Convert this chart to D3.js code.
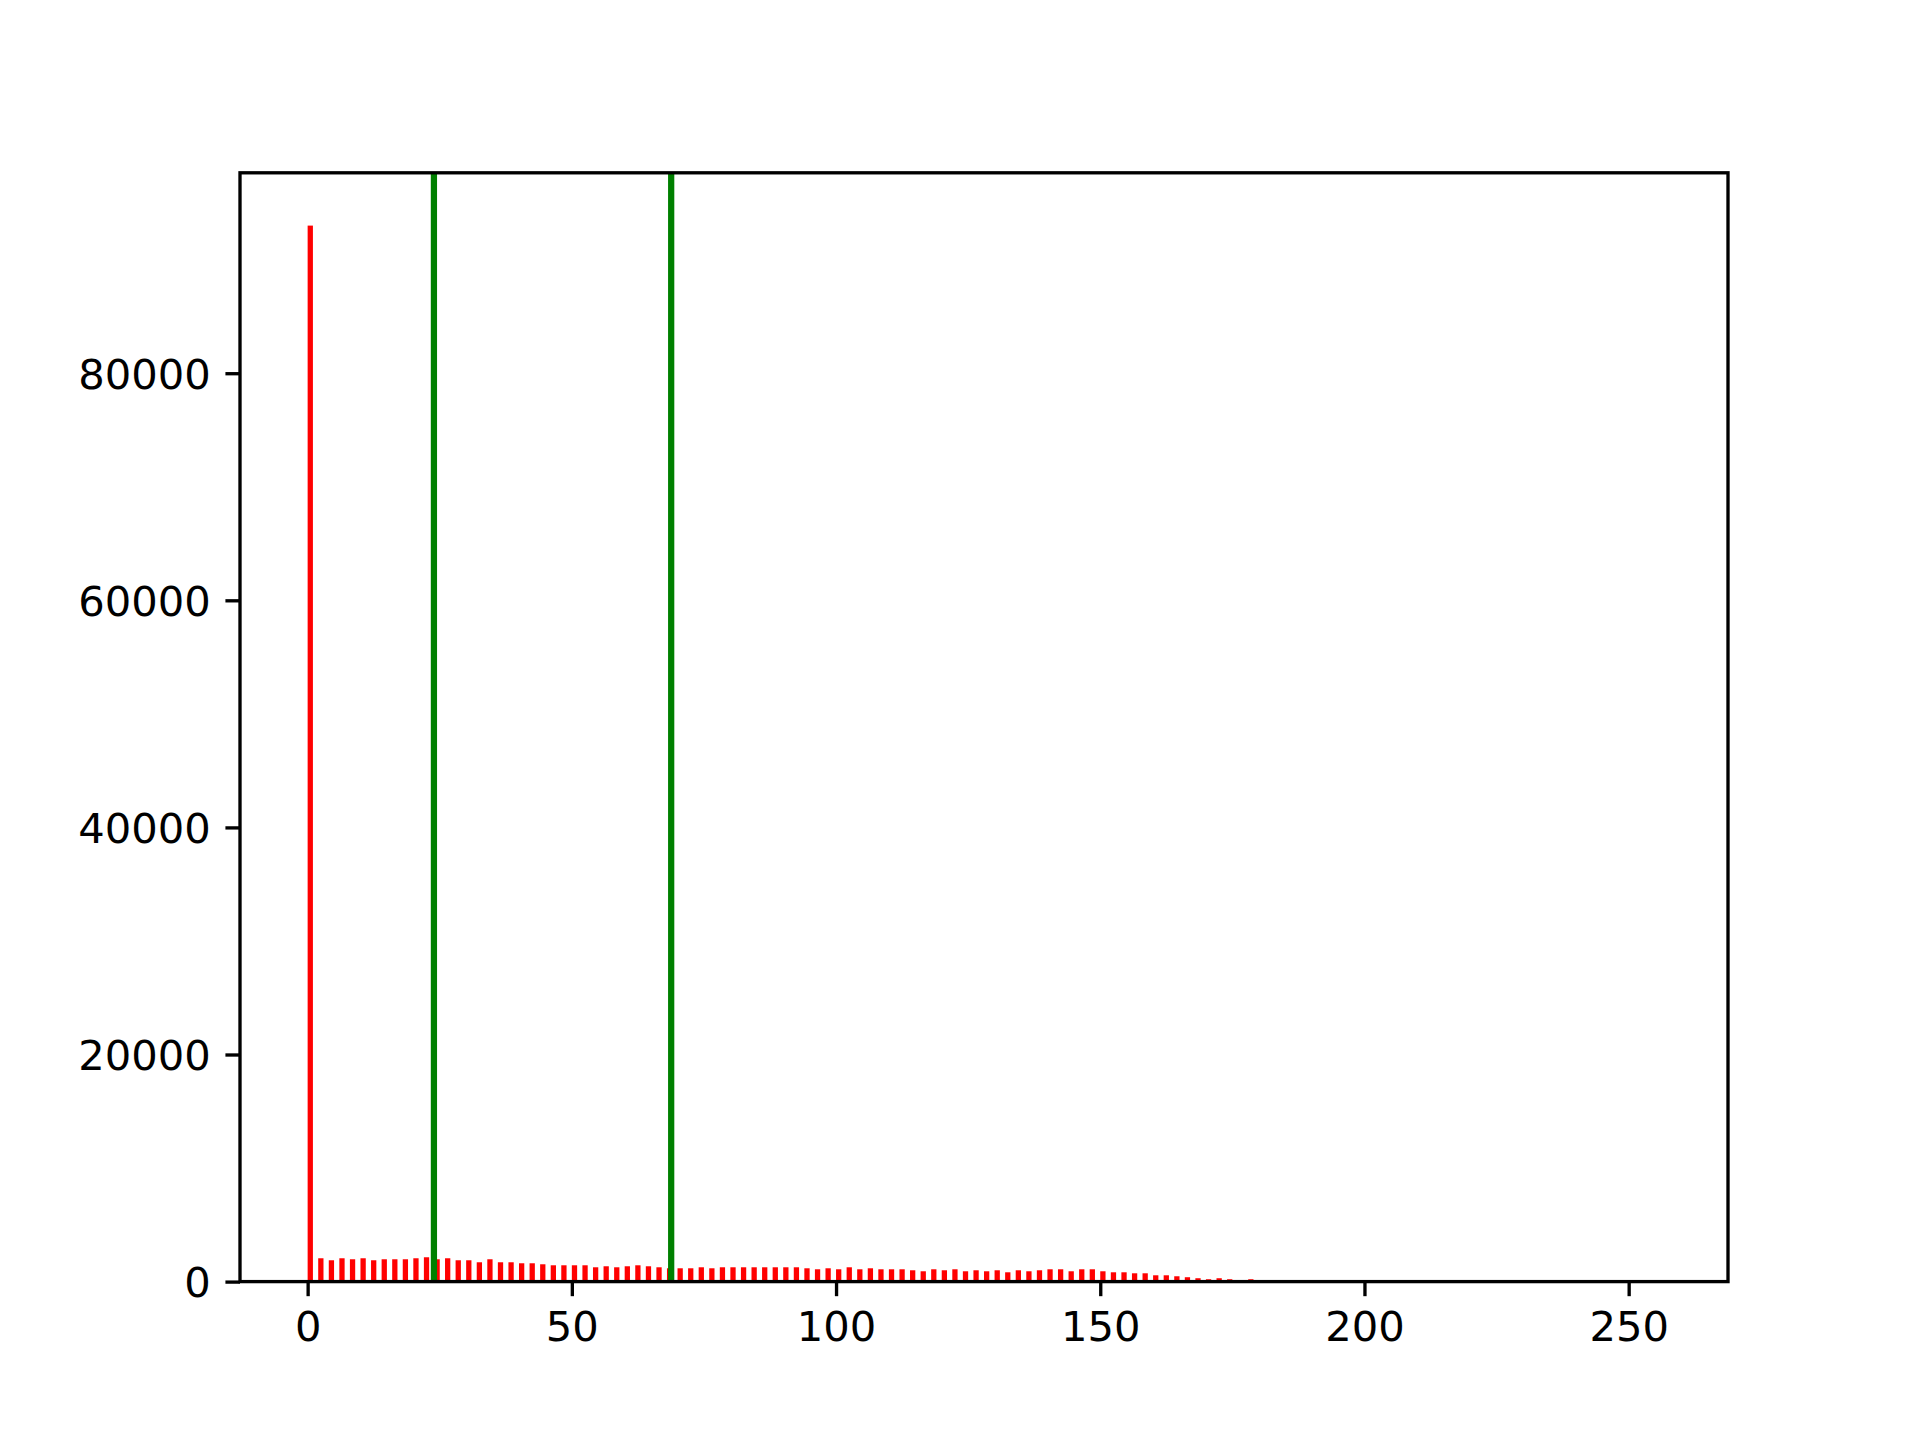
<!DOCTYPE html>
<html>
<head>
<meta charset="utf-8">
<script src="https://cdn.jsdelivr.net/npm/d3@7"></script>
<style>
  html, body { margin: 0; padding: 0; background: #fff; }
  svg { display: block; }
  text { font-family: "DejaVu Sans", sans-serif; }
</style>
</head>
<body>
<script>
// Histogram bins (left edges, width 1) — odd bins are empty
const bins = [0,2,4,6,8,10,12,14,16,18,20,22,24,26,28,30,32,34,36,38,40,42,44,46,48,50,52,54,56,58,60,62,64,66,68,70,72,74,76,78,80,82,84,86,88,90,92,94,96,98,100,102,104,106,108,110,112,114,116,118,120,122,124,126,128,130,132,134,136,138,140,142,144,146,148,150,152,154,156,158,160,162,164,166,168,170,172,174,176,178];
const counts = [93000,2055,1879,2055,1967,2055,1879,1967,1967,1967,2055,2143,1967,2055,1879,1879,1702,1967,1702,1702,1614,1614,1526,1437,1437,1437,1437,1261,1350,1261,1350,1437,1350,1261,1173,1173,1173,1261,1173,1261,1261,1261,1261,1261,1261,1261,1261,1173,1085,1173,1085,1261,1085,1173,1085,1085,1085,997,909,1085,997,1085,909,997,909,997,820,997,909,997,1085,1085,909,1085,1085,909,820,820,732,732,556,556,470,385,297,209,297,209,100,209];
const thresholds = [23.9, 68.8];
const xTicks = [0, 50, 100, 150, 200, 250];
const yTicks = [0, 20000, 40000, 60000, 80000];
const binWidth = 1;
const histRange = [0, 256];

(function () {
const W = 1920, H = 1440;
const mLeft = 240, mRight = 1728, mTop = 172.8, mBottom = 1281.6;
const lw = 0.8 * 300 / 72;      // spine / tick width
const tickLen = 3.5 * 300 / 72;
const pad = 3.5 * 300 / 72;
const fontSize = 10 * 300 / 72;

const svg = d3.select("body").append("svg").attr("width", W).attr("height", H);
svg.append("rect").attr("width", W).attr("height", H).attr("fill", "#fff");

const span = histRange[1] - histRange[0];
const x = d3.scaleLinear()
  .domain([histRange[0] - 0.05 * span, histRange[1] + 0.05 * span])
  .range([mLeft, mRight]);
const yMax = d3.max(counts);
const y = d3.scaleLinear().domain([0, yMax * 1.05]).range([mBottom, mTop]);

const plot = svg.append("g");
const data = bins.map((b, i) => ({ b, c: counts[i] }));

plot.selectAll("rect.bar").data(data).enter().append("rect")
  .attr("class", "bar")
  .attr("x", d => x(d.b))
  .attr("width", d => x(d.b + binWidth) - x(d.b))
  .attr("y", d => y(d.c))
  .attr("height", d => y(0) - y(d.c))
  .attr("fill", "#ff0000");

plot.selectAll("line.thr").data(thresholds).enter().append("line")
  .attr("class", "thr")
  .attr("x1", d => x(d)).attr("x2", d => x(d))
  .attr("y1", mTop).attr("y2", mBottom)
  .attr("stroke", "#008000")
  .attr("stroke-width", 1.5 * 300 / 72);

const xAxis = d3.axisBottom(x).tickValues(xTicks).tickSize(tickLen).tickPadding(pad).tickFormat(d3.format("d"));
const yAxis = d3.axisLeft(y).tickValues(yTicks).tickSize(tickLen).tickPadding(pad).tickFormat(d3.format("d"));

const gx = svg.append("g").attr("transform", `translate(0,${mBottom})`).call(xAxis);
const gy = svg.append("g").attr("transform", `translate(${mLeft},0)`).call(yAxis);

[gx, gy].forEach(g => {
  g.select(".domain").remove();
  g.selectAll(".tick line").attr("stroke", "#000").attr("stroke-width", lw);
  g.selectAll(".tick text").attr("fill", "#000")
    .style("font-family", "'DejaVu Sans', sans-serif")
    .style("font-size", fontSize + "px");
});
gx.selectAll(".tick text").attr("dy", null).attr("y", tickLen + pad + 0.729 * fontSize);
gy.selectAll(".tick text").attr("dy", null).attr("x", -(tickLen + pad)).attr("y", 0.729 * fontSize / 2);

svg.append("rect")
  .attr("x", mLeft).attr("y", mTop)
  .attr("width", mRight - mLeft).attr("height", mBottom - mTop)
  .attr("fill", "none").attr("stroke", "#000").attr("stroke-width", lw);
})();
</script>
</body>
</html>
